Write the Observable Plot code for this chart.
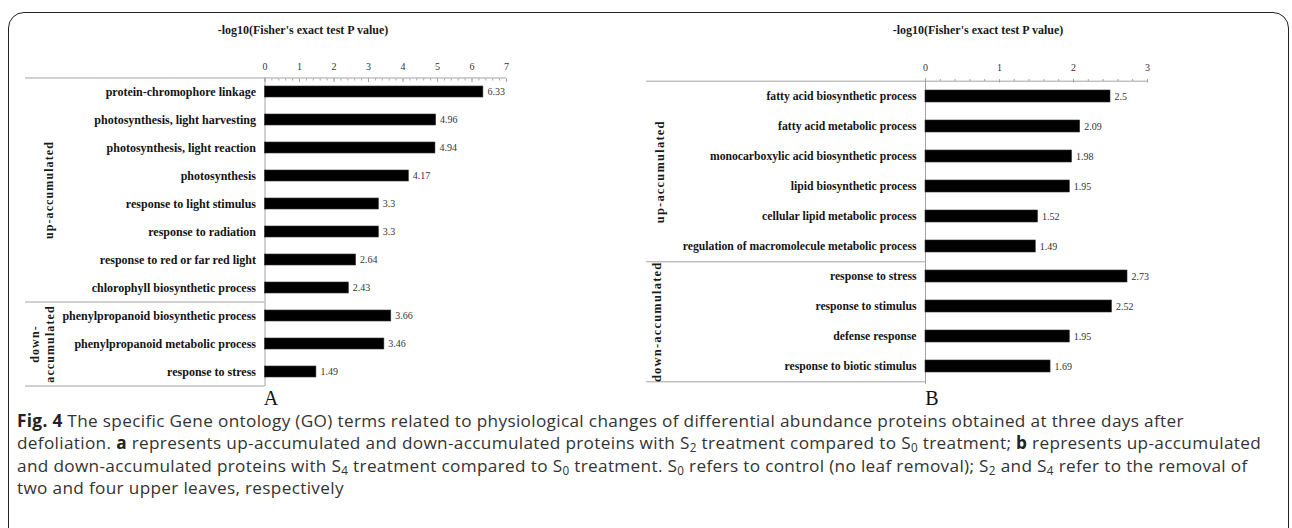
<!DOCTYPE html>
<html>
<head>
<meta charset="utf-8">
<script src="https://cdn.jsdelivr.net/npm/d3@7"></script>
<script src="https://cdn.jsdelivr.net/npm/@observablehq/plot@0.6"></script>
<style>
  html, body { margin: 0; padding: 0; background: #fff; }
  body { width: 1292px; height: 528px; overflow: hidden; position: relative; }
  #frame { position: absolute; left: 8px; top: 12px; width: 1281px; height: 640px;
           border: 1.5px solid #222; border-radius: 16px; box-sizing: border-box; }
  .panel { position: absolute; top: 0; }
  .panel svg, .panel svg text { font-family: "Liberation Serif", "Times New Roman", serif; }
  .ptitle { position: absolute; top: 23px; transform: translateX(-50%); white-space: nowrap;
            font: bold 12px "Liberation Serif", "Times New Roman", serif; color: #1a1a1a; line-height: 14px; }
  .pletter { position: absolute; top: 386px; transform: translateX(-50%);
             font: 20px "Liberation Serif", "Times New Roman", serif; color: #111; line-height: 24px; }
  #caption { position: absolute; left: 17px; top: 410px; width: 1275px;
             font-family: "Open Sans", Lato, sans-serif; font-size: 17.2px; letter-spacing: 0.33px;
             line-height: 22.4px; color: #333; white-space: nowrap; }
  #caption b { color: #222; }
  #caption sub { font-size: 0.68em; vertical-align: -0.28em; line-height: 0; }
</style>
</head>
<body>
<div id="frame"></div>
<div id="A" class="panel" style="left:0px"></div>
<div id="B" class="panel" style="left:640px"></div>
<div class="ptitle" style="left:303px">-log10(Fisher's exact test P value)</div>
<div class="ptitle" style="left:978px">-log10(Fisher's exact test P value)</div>
<div class="pletter" style="left:271px">A</div>
<div class="pletter" style="left:932px">B</div>
<div id="caption">
<b>Fig. 4</b> The specific Gene ontology (GO) terms related to physiological changes of differential abundance proteins obtained at three days after<br>
defoliation. <b>a</b> represents up-accumulated and down-accumulated proteins with S<sub>2</sub> treatment compared to S<sub>0</sub> treatment; <b>b</b> represents up-accumulated<br>
and down-accumulated proteins with S<sub>4</sub> treatment compared to S<sub>0</sub> treatment. S<sub>0</sub> refers to control (no leaf removal); S<sub>2</sub> and S<sub>4</sub> refer to the removal of<br>
two and four upper leaves, respectively
</div>
<script>
// ---------- Panel A data ----------
const termsA = [
  "protein-chromophore linkage",
  "photosynthesis, light harvesting",
  "photosynthesis, light reaction",
  "photosynthesis",
  "response to light stimulus",
  "response to radiation",
  "response to red or far red light",
  "chlorophyll biosynthetic process",
  "phenylpropanoid biosynthetic process",
  "phenylpropanoid metabolic process",
  "response to stress"
];
const valuesA = [6.33, 4.96, 4.94, 4.17, 3.3, 3.3, 2.64, 2.43, 3.66, 3.46, 1.49];
const groupsA = [
  "up-accumulated", "up-accumulated", "up-accumulated", "up-accumulated",
  "up-accumulated", "up-accumulated", "up-accumulated", "up-accumulated",
  "down-\naccumulated", "down-\naccumulated", "down-\naccumulated"
];
const ticksA = [0, 1, 2, 3, 4, 5, 6, 7];

// ---------- Panel B data ----------
const termsB = [
  "fatty acid biosynthetic process",
  "fatty acid metabolic process",
  "monocarboxylic acid biosynthetic process",
  "lipid biosynthetic process",
  "cellular lipid metabolic process",
  "regulation of macromolecule metabolic process",
  "response to stress",
  "response to stimulus",
  "defense response",
  "response to biotic stimulus"
];
const valuesB = [2.5, 2.09, 1.98, 1.95, 1.52, 1.49, 2.73, 2.52, 1.95, 1.69];
const groupsB = [
  "up-accumulated", "up-accumulated", "up-accumulated",
  "up-accumulated", "up-accumulated", "up-accumulated",
  "down-accumulated", "down-accumulated", "down-accumulated", "down-accumulated"
];
const ticksB = [0, 1, 2, 3];

const LINE = "#a3a3a3";
const SERIF = "'Liberation Serif', 'Times New Roman', serif";

function panel(o) {
  const {terms, values, groups, ticks, width, height, mt, mb, ml, mr,
         lineStart, groupX, labelSize, groupSize, groupSpacing} = o;
  const data = terms.map((t, i) => ({term: t, value: values[i], group: groups[i]}));
  const n = terms.length;
  const step = (height - mt - mb) / n;
  const gnames = [...new Set(groups)];
  const gdata = gnames.map((g, k) => {
    const idx = groups.map((d, i) => d === g ? i : -1).filter(i => i >= 0);
    const a = idx[0], b = idx[idx.length - 1];
    const mid = (a + b) / 2;
    return {name: g, term: terms[Math.floor(mid)], dy: (mid - Math.floor(mid)) * step, last: terms[b], gx: groupX[k]};
  });
  const minor = d3.range(0, ticks.length - 1 + 1e-9, 0.2).map(v => +v.toFixed(1) + ticks[0]);
  const inset = -(ml - lineStart);
  const svg = Plot.plot({
    width, height,
    marginTop: mt, marginBottom: mb, marginLeft: ml, marginRight: mr,
    style: `font-family: ${SERIF}; background: transparent; overflow: visible; color: #222;`,
    x: {domain: [ticks[0], ticks[ticks.length - 1]]},
    y: {domain: terms, paddingInner: 0.6, paddingOuter: 0.3, align: 0.5},
    marks: [
      Plot.ruleX([0], {stroke: LINE, strokeWidth: 1}),
      Plot.ruleY([terms[0]], {dy: -step / 2, insetLeft: inset, stroke: LINE, strokeWidth: 1}),
      Plot.ruleY(gdata, {y: "last", x1: 0, x2: 0, dy: step / 2, insetLeft: inset, stroke: LINE, strokeWidth: 1}),
      Plot.axisX({anchor: "top", ticks: minor, tickSize: -2, tickFormat: () => "", stroke: LINE, label: null}),
      Plot.axisX({anchor: "top", ticks, tickSize: -3.5, tickFormat: () => "", stroke: LINE, label: null}),
      Plot.axisX({anchor: "top", ticks, tickSize: 0, tickPadding: 8, tickFormat: d => String(d), fontSize: 10, fill: "#333", label: null}),
      Plot.axisY({tickSize: 0, tickPadding: 9, fontSize: labelSize, fontWeight: "bold", fill: "#141414", label: null}),
      Plot.barX(data, {x: "value", y: "term", fill: "#000", stroke: "#333", strokeWidth: 0.6}),
      Plot.text(data, {x: "value", y: "term", text: d => String(d.value), dx: 4, textAnchor: "start", fontSize: 10, fill: "#333"}),
      ...gdata.map(g => Plot.text([g], {
        y: "term", dy: g.dy, frameAnchor: "left", dx: -(ml - g.gx),
        rotate: -90, text: "name", fontSize: groupSize, fontWeight: "bold",
        lineHeight: 1.25, fill: "#1a1a1a", textAnchor: "middle"
      }))
    ]
  });
  d3.select(svg).selectAll("text").filter(function () {
    return (this.getAttribute("transform") || "").includes("rotate(-90)");
  }).style("letter-spacing", groupSpacing + "px");
  return svg;
}

document.getElementById("A").append(panel({
  terms: termsA, values: valuesA, groups: groupsA, ticks: ticksA,
  width: 640, height: 410, mt: 77.5, mb: 24, ml: 264.5, mr: 134,
  lineStart: 25, groupX: [48, 41], labelSize: 12, groupSize: 12, groupSpacing: 1.1
}));
document.getElementById("B").append(panel({
  terms: termsB, values: valuesB, groups: groupsB, ticks: ticksB,
  width: 652, height: 410, mt: 78, mb: 26, ml: 285, mr: 145,
  lineStart: 6, groupX: [18, 15], labelSize: 11.7, groupSize: 12.5, groupSpacing: 1.2
}));
</script>
</body>
</html>
